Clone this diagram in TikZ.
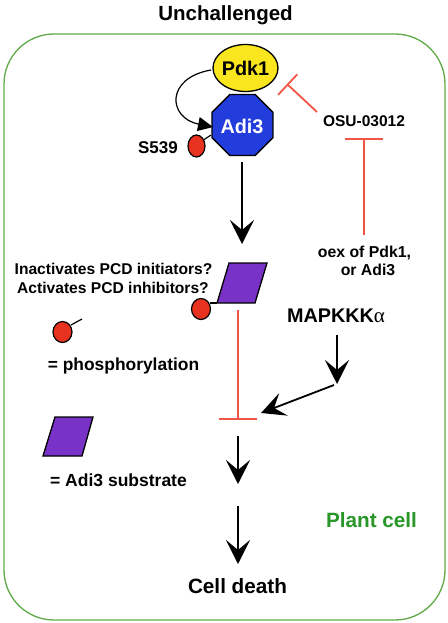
\documentclass[tikz,border=0pt]{standalone}
\usepackage{fontspec}
\setmainfont{Liberation Sans}
\newfontfamily\greekserif{Liberation Serif}
\usetikzlibrary{arrows.meta,shapes.geometric}
\definecolor{cellgreen}{RGB}{95,170,70}
\definecolor{plantgreen}{RGB}{40,150,40}
\definecolor{inhred}{RGB}{240,85,70}
\definecolor{phred}{RGB}{230,50,30}
\definecolor{adiblue}{RGB}{35,60,220}
\definecolor{pdkyellow}{RGB}{250,230,30}
\definecolor{subpurple}{RGB}{120,50,200}
\tikzset{
  lbl/.style={font=\bfseries\fontsize{#1}{#1}\selectfont, inner sep=0pt, anchor=base},
  act/.style={line width=1.8pt, -{Stealth[length=24pt,width=24pt,inset=10pt]}},
  inh/.style={line width=1.8pt, draw=inhred, -{Bar[width=#1,line width=1.8pt]}},
  phos/.style={ellipse, draw=black, line width=1.2pt, fill=phred, minimum width=18pt, minimum height=21pt, inner sep=0pt},
  subst/.style={draw=black, line width=1.3pt, fill=subpurple},
}
\begin{document}
\begin{tikzpicture}[x=1pt,y=-1pt]
\useasboundingbox (0,0) rectangle (447,623);
% cell
\draw[cellgreen, line width=1.3pt, rounded corners=50pt] (4,34) rectangle (445,620);
% title
\node[lbl=20.5] (title) at (225.5,21) {Unchallenged};
% Pdk1
\node[ellipse, draw=black, line width=1.3pt, fill=pdkyellow, minimum width=65pt, minimum height=47pt, inner sep=0pt] (pdk) at (245.5,68) {};
\node[lbl=19.8] (pdkt) at (245.5,76) {Pdk1};
% Adi3
\node[regular polygon, regular polygon sides=8, draw=black, line width=1.3pt, fill=adiblue, minimum size=66pt, inner sep=0pt] (adi) at (242.5,125) {};
\node[lbl=19.8, text=white] (adit) at (242,133) {Adi3};
% S539
\node[phos, minimum width=17pt, minimum height=22pt] (p1) at (196.5,146) {};
\node[lbl=17] (s539) at (158,153) {S539};
\coordinate (p1a) at (203.5,140);
\coordinate (p1b) at (211,135);
\draw[line width=1.2pt] (p1a) -- (p1b);
% curved arrow Pdk1 -> Adi3
\coordinate (c1) at (211,70);
\coordinate (c2) at (213,127);
\draw[line width=1.2pt, -{Triangle[length=15pt,width=14pt]}] (c1) .. controls (165,78) and (168,118) .. (c2);
% OSU
\node[lbl=15.5] (osu) at (364,127) {OSU-03012};
\coordinate (osu1) at (317,112);
\coordinate (osubar) at (287,84);
\draw[inh=28pt] (osu1) -- (osubar);
% oex
\node[lbl=15.8] (oex1) at (364.5,257) {oex of Pdk1,};
\node[lbl=15.8] (oex2) at (368,275) {or Adi3};
\coordinate (oextop) at (364,235);
\coordinate (osubot) at (364,138);
\draw[inh=38pt] (oextop) -- (osubot);
% Adi3 -> substrate
\coordinate (a1) at (242,162);
\coordinate (a1t) at (242,244);
\draw[act] (a1) -- (a1t);
% substrate
\draw[subst] (229,263) coordinate (sA) -- (267,263) -- (255,303) -- (217,303) coordinate (sD) -- cycle;
\node[phos, minimum width=19pt, minimum height=21pt] (p2) at (201,309) {};
\coordinate (p2a) at (209.5,303);
\draw[line width=1.2pt] (p2a) -- (sD);
\node[lbl=15.6] (q1) at (113.5,274) {Inactivates PCD initiators?};
\node[lbl=15.6] (q2) at (113,293) {Activates PCD inhibitors?};
% red inhibition from substrate
\coordinate (r1) at (238,310);
\coordinate (r2) at (238,420);
\draw[inh=38pt] (r1) -- (r2);
% MAPKKK
\node[lbl=19.8] (mapk) at (336,322) {MAPKKK{\greekserif\mdseries\fontsize{21}{21}\selectfont α}};
\coordinate (m1) at (337,335);
\coordinate (m1t) at (337,384);
\draw[act] (m1) -- (m1t);
\coordinate (m2) at (334,385);
\coordinate (m2t) at (261,413);
\draw[act] (m2) -- (m2t);
% downstream arrows
\coordinate (d1) at (238,436);
\coordinate (d1t) at (238,484);
\draw[act] (d1) -- (d1t);
\coordinate (d2) at (238,506);
\coordinate (d2t) at (238,564);
\draw[act] (d2) -- (d2t);
\node[lbl=20.7] (death) at (237.5,593) {Cell death};
\node[lbl=20.7, text=plantgreen] (plant) at (371.5,527) {Plant cell};
% legend
\node[phos, minimum width=19pt, minimum height=21pt] (p3) at (62.5,332) {};
\coordinate (p3a) at (71,325);
\coordinate (p3b) at (82,319);
\draw[line width=1.2pt] (p3a) -- (p3b);
\node[lbl=17.4] (phosl) at (123.5,370) {= phosphorylation};
\draw[subst] (55,417) coordinate (lA) -- (93,417) -- (82,456) -- (43,456) -- cycle;
\node[lbl=17.5] (subl) at (118.5,486) {= Adi3 substrate};
\end{tikzpicture}
\end{document}
